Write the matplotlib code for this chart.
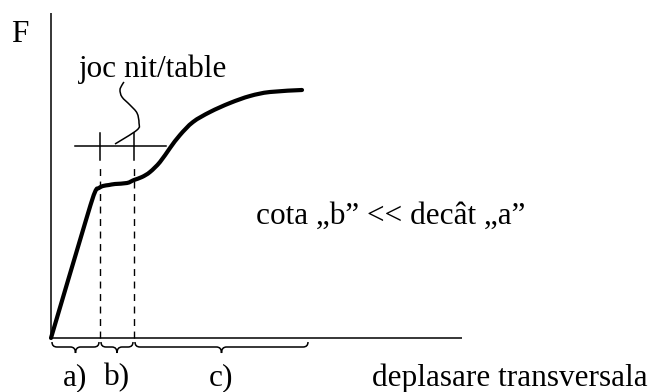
import numpy as np
import matplotlib
matplotlib.use("Agg")
import matplotlib.pyplot as plt
from matplotlib.path import Path
from matplotlib.patches import PathPatch

plt.rcParams['font.family'] = ['Liberation Serif', 'DejaVu Serif']

# Force-displacement curve (displacement, force) in arbitrary units
disp = [0, 35, 44, 48, 52, 58, 64, 76, 83, 91, 99, 109, 119, 129, 142, 159, 179, 199, 219, 251]
force = [0, 118, 146, 150, 152, 153, 154, 155, 158, 161, 166, 176, 190, 203, 216, 226, 235, 242, 246, 248]

# Play (joc) boundaries on displacement axis
play_start = 49
play_end = 83
segment_edges = [0, 49, 83, 258]
segment_labels = ["a)", "b)", "c)"]

# Leader line of the "joc nit/table" label
leader_x = [64, 86, 88, 86, 79, 71, 69, 71, 73]
leader_y = [194, 208, 215, 225, 233, 241, 248, 253, 256]

x_axis_end = 411
y_axis_end = 325
joc_level = 192
joc_line = [24, 115]

def smooth_path(xs, ys):
    pts = np.column_stack([xs, ys]).astype(float)
    n = len(pts)
    verts = [pts[0]]
    codes = [Path.MOVETO]
    for i in range(n - 1):
        p0 = pts[i - 1] if i > 0 else pts[i]
        p1 = pts[i]
        p2 = pts[i + 1]
        p3 = pts[i + 2] if i + 2 < n else pts[i + 1]
        c1 = p1 + (p2 - p0) / 6.0
        c2 = p2 - (p3 - p1) / 6.0
        verts += [c1, c2, p2]
        codes += [Path.CURVE4] * 3
    return Path(verts, codes)

def brace_path(x0, x1, yt, ym, yb, r):
    xm = (x0 + x1) / 2.0
    verts = [(x0, yt), (x0, ym), (x0 + r, ym),
             (xm - r, ym),
             (xm, ym), (xm, yb),
             (xm, ym), (xm + r, ym),
             (x1 - r, ym),
             (x1, ym), (x1, yt)]
    codes = [Path.MOVETO, Path.CURVE3, Path.CURVE3,
             Path.LINETO,
             Path.CURVE3, Path.CURVE3,
             Path.CURVE3, Path.CURVE3,
             Path.LINETO,
             Path.CURVE3, Path.CURVE3]
    return Path(verts, codes)

fig = plt.figure(figsize=(6.5, 3.92), dpi=100)
ax = fig.add_axes([0, 0, 1, 1])
ax.set_xlim(-51, 599)
ax.set_ylim(-54, 338)
ax.axis('off')

# axes
ax.plot([0, 0], [0, y_axis_end], color='black', lw=1.1, solid_capstyle='butt')
ax.plot([0, x_axis_end], [0, 0], color='black', lw=1.1, solid_capstyle='butt')

# curve
ax.add_patch(PathPatch(smooth_path(disp, force), fill=False, lw=3.0,
                       edgecolor='black', capstyle='round', joinstyle='round'))

# dashed boundaries
for xv in [play_start, play_end]:
    ax.plot([xv, xv], [0, 171], color='black', lw=1.0, ls=(0, (5, 4)))
    ax.plot([xv, xv], [178, 205], color='black', lw=1.1)

# horizontal play line
ax.plot(joc_line, [joc_level, joc_level], color='black', lw=1.1)

# leader
ax.add_patch(PathPatch(smooth_path(leader_x, leader_y), fill=False, lw=1.1, edgecolor='black'))

fs = 22.5

# braces
for i in range(3):
    ax.add_patch(PathPatch(brace_path(segment_edges[i] + 1, segment_edges[i + 1] - 1, -4, -9, -15, 5),
                           fill=False, lw=1.1, edgecolor='black'))
    ax.text((segment_edges[i] + segment_edges[i + 1]) / 2.0, -47, segment_labels[i],
            ha='center', va='baseline', fontsize=fs)

ax.text(-31, 296, "F", ha='center', va='baseline', fontsize=fs)
ax.text(102, 261, "joc nit/table", ha='center', va='baseline', fontsize=fs)
ax.text(340, 114, "cota \u201eb\u201d << decât \u201ea\u201d", ha='center', va='baseline', fontsize=fs)
ax.text(321, -48, "deplasare transversala", ha='left', va='baseline', fontsize=fs)

fig.savefig("out.png", dpi=100)
